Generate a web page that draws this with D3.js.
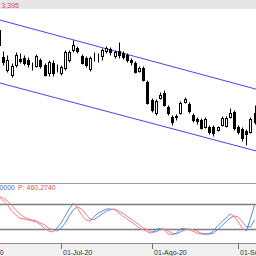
<!DOCTYPE html>
<html>
<head>
<meta charset="utf-8">
<script src="https://cdn.jsdelivr.net/npm/d3@7"></script>
<style>
  body { margin: 0; background: #fff; overflow: hidden; }
  svg { display: block; font-family: "Liberation Sans", Arial, sans-serif; }
</style>
</head>
<body>
<div id="chart"></div>
<script>
// candles, one per trading day, index 0 = first visible day
var open  = [3.710,3.602,3.550,3.530,3.570,3.594,3.598,3.590,3.566,3.566,3.590,3.570,3.538,3.578,3.558,3.538,3.558,3.590,3.630,3.638,3.606,3.598,3.554,3.610,3.602,3.606,3.626,3.634,3.606,3.626,3.618,3.610,3.590,3.578,3.546,3.558,3.502,3.430,3.378,3.438,3.458,3.402,3.362,3.366,3.378,3.422,3.414,3.370,3.354,3.350,3.322,3.322,3.322,3.310,3.330,3.326,3.362,3.382,3.322,3.314,3.306,3.302,3.378];
var high  = [3.722,3.626,3.610,3.578,3.622,3.618,3.610,3.602,3.582,3.614,3.598,3.578,3.590,3.590,3.574,3.570,3.630,3.630,3.670,3.646,3.614,3.606,3.606,3.622,3.618,3.638,3.646,3.642,3.630,3.662,3.626,3.618,3.598,3.586,3.566,3.566,3.510,3.438,3.434,3.462,3.470,3.410,3.370,3.374,3.426,3.442,3.422,3.378,3.362,3.358,3.362,3.330,3.330,3.326,3.366,3.366,3.398,3.390,3.330,3.322,3.314,3.362,3.410];
var low   = [3.638,3.570,3.542,3.522,3.562,3.578,3.570,3.562,3.550,3.562,3.558,3.526,3.526,3.526,3.542,3.530,3.550,3.582,3.622,3.618,3.574,3.562,3.546,3.586,3.582,3.590,3.618,3.610,3.598,3.598,3.594,3.582,3.570,3.538,3.542,3.506,3.414,3.382,3.370,3.434,3.406,3.370,3.330,3.350,3.374,3.418,3.378,3.342,3.334,3.314,3.318,3.294,3.286,3.306,3.326,3.322,3.358,3.310,3.294,3.266,3.250,3.298,3.334];
var close = [3.650,3.582,3.590,3.566,3.610,3.586,3.578,3.574,3.564,3.606,3.566,3.530,3.582,3.538,3.556,3.562,3.622,3.622,3.650,3.626,3.578,3.570,3.598,3.608,3.600,3.630,3.638,3.622,3.622,3.610,3.602,3.590,3.582,3.542,3.558,3.510,3.418,3.390,3.426,3.450,3.410,3.378,3.342,3.362,3.418,3.434,3.386,3.350,3.346,3.318,3.354,3.302,3.298,3.322,3.358,3.358,3.378,3.318,3.302,3.278,3.294,3.354,3.342];

// stochastic %K and %D
var stochK = [97,87,78,63,54,46,44,42,39,37,30,22,15,13,22,34,51,68,82,70,54,42,39,49,58,63,68,68,66,58,51,44,37,30,22,18,13,10,18,22,18,8,6,10,20,22,18,15,10,8,8,8,15,27,37,46,56,51,37,22,15,45,78];
var stochD = [98,94,87,78,66,56,49,44,42,39,34,30,22,18,15,22,34,51,66,73,68,56,44,42,49,56,63,66,68,63,58,51,44,37,30,22,18,13,13,18,20,15,10,8,13,18,20,18,15,10,8,8,10,18,27,37,46,51,49,37,25,25,42];
var stochLevels = [20, 80];

// channel lines: [index, price] end points
var channelUpper = [[-1, 3.755], [64, 3.466]];
var channelLower = [[-1, 3.503], [64, 3.219]];

// month ticks
var tickIndex = [-7, 15, 37, 58];
var tickLabels = ["01-Jun-20", "01-Jul-20", "01-Ago-20", "01-Set-20"];

var width = 256, height = 256;

var svg = d3.select("#chart")
  .append("svg")
  .attr("width", width)
  .attr("height", height);

var xScale = d3.scaleLinear().domain([0, 62]).range([-0.8, 254.6]);
var yPrice = d3.scaleLinear().domain([3.098, 3.79]).range([183, 10]);
var yOsc = d3.scaleLinear().domain([0, 100]).range([237.3, 195.6]);

function cx(i) { return Math.round(xScale(i)) + 0.5; }
function py(v) { return Math.round(yPrice(v)) + 0.5; }

// top info bar
svg.append("rect").attr("x", 0).attr("y", 0).attr("width", width).attr("height", 9).attr("fill", "#e6e6e6");
svg.append("text").attr("x", 19).attr("y", 7.5).attr("text-anchor", "end")
  .attr("font-size", 7).attr("fill", "#e0505a").text("Últ: 3,395");

// main panel
var main = svg.append("g");
main.append("clipPath").attr("id", "clipMain")
  .append("rect").attr("x", 0).attr("y", 9).attr("width", width).attr("height", 174);

var chan = main.append("g").attr("clip-path", "url(#clipMain)");
var line = d3.line().x(function(d){ return xScale(d[0]); }).y(function(d){ return yPrice(d[1]); });
[channelUpper, channelLower].forEach(function(c){
  chan.append("path").attr("d", line(c)).attr("fill", "none")
    .attr("stroke", "#4646f0").attr("stroke-width", 1);
});

var candles = d3.range(open.length).map(function(i){
  return { i: i, o: open[i], h: high[i], l: low[i], c: close[i] };
});

var cg = main.append("g").attr("clip-path", "url(#clipMain)");
cg.selectAll("line.wick")
  .data(candles).enter().append("line")
  .attr("class", "wick")
  .attr("x1", function(d){ return cx(d.i); })
  .attr("x2", function(d){ return cx(d.i); })
  .attr("y1", function(d){ return py(d.h); })
  .attr("y2", function(d){ return py(d.l); })
  .attr("stroke", "#000");

cg.selectAll("rect.body")
  .data(candles).enter().append("rect")
  .attr("class", "body")
  .attr("x", function(d){ return cx(d.i) - 1; })
  .attr("width", 2)
  .attr("y", function(d){ return py(Math.max(d.o, d.c)); })
  .attr("height", function(d){ return py(Math.min(d.o, d.c)) - py(Math.max(d.o, d.c)); })
  .attr("fill", function(d){ return d.c < d.o ? "#000" : "#fff"; })
  .attr("stroke", "#000");

// indicator panel
svg.append("line").attr("x1", 0).attr("x2", width).attr("y1", 183.5).attr("y2", 183.5)
  .attr("stroke", "#a0a0a0");

svg.append("text").attr("x", 15).attr("y", 190).attr("text-anchor", "end")
  .attr("font-size", 7).attr("fill", "#4a6fb5").text("K: 50,0000");
svg.append("text").attr("x", 18).attr("y", 190)
  .attr("font-size", 7).attr("fill", "#e0505a").text("P: 460,2740");

svg.selectAll("line.level")
  .data(stochLevels).enter().append("line")
  .attr("class", "level")
  .attr("x1", 0).attr("x2", width)
  .attr("y1", function(d){ return Math.round(yOsc(d)) + 0.5; })
  .attr("y2", function(d){ return Math.round(yOsc(d)) + 0.5; })
  .attr("stroke", "#7c7c7c").attr("stroke-width", 1.3);

function drawOsc(values) {
  var segs = d3.range(1, values.length).map(function(i){
    return { a: i - 1, b: i, va: values[i - 1], vb: values[i] };
  });
  svg.append("g").selectAll("line")
    .data(segs).enter().append("line")
    .attr("x1", function(d){ return xScale(d.a); })
    .attr("x2", function(d){ return xScale(d.b); })
    .attr("y1", function(d){ return yOsc(d.va); })
    .attr("y2", function(d){ return yOsc(d.vb); })
    .attr("stroke", function(d){ return d.vb >= d.va ? "#5a8ad8" : "#f27f86"; })
    .attr("stroke-width", 1);
}
drawOsc(stochD);
drawOsc(stochK);

// date axis band
svg.append("rect").attr("x", 0).attr("y", 243).attr("width", width).attr("height", 13).attr("fill", "#f0f0f0");
svg.append("line").attr("x1", 0).attr("x2", width).attr("y1", 243.5).attr("y2", 243.5).attr("stroke", "#8c8c8c");

var ticks = tickIndex.map(function(t, k){ return { i: t, label: tickLabels[k] }; });
var tg = svg.selectAll("g.tick").data(ticks).enter().append("g").attr("class", "tick");
tg.append("line")
  .attr("x1", function(d){ return cx(d.i); })
  .attr("x2", function(d){ return cx(d.i); })
  .attr("y1", 244).attr("y2", 249)
  .attr("stroke", "#707070");
tg.append("text")
  .attr("x", function(d){ return cx(d.i) + 1.5; })
  .attr("y", 254.5)
  .attr("font-size", 7)
  .attr("fill", "#333")
  .text(function(d){ return d.label; });
</script>
</body>
</html>
